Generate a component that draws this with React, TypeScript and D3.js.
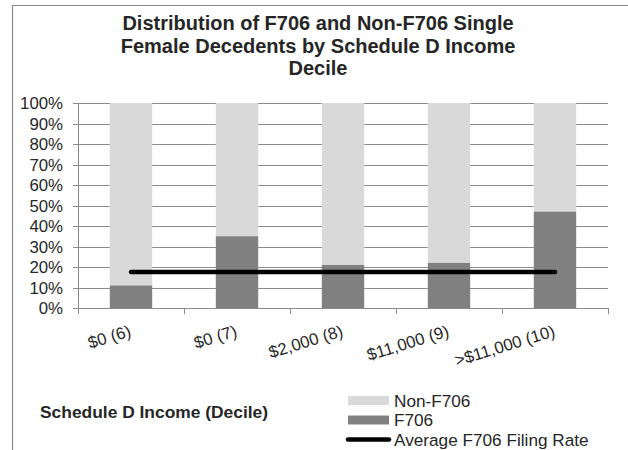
import { useEffect, useRef } from 'react';
import * as d3 from 'd3';

const categories = ['$0 (6)', '$0 (7)', '$2,000 (8)', '$11,000 (9)', '>$11,000 (10)'];
const f706 = [0.11, 0.35, 0.21, 0.22, 0.47];
const nonF706 = [0.89, 0.65, 0.79, 0.78, 0.53];
const averageRate = 0.176;
const yTicks = [0, 0.1, 0.2, 0.3, 0.4, 0.5, 0.6, 0.7, 0.8, 0.9, 1];
const titleLines = [
  'Distribution of F706 and Non-F706 Single',
  'Female Decedents by Schedule D Income',
  'Decile',
];

const FONT = '"Liberation Sans", Arial, sans-serif';
const TEXT = '#262626';
const GRID = '#8c8c8c';

export default function App() {
  const ref = useRef<SVGSVGElement>(null);

  useEffect(() => {
    const width = 628, height = 450;
    const svg = d3.select(ref.current);
    svg.selectAll('*').remove();
    svg.attr('width', width).attr('height', height);

    svg.append('rect').attr('width', width).attr('height', height).attr('fill', '#fff');

    // outer chart frame
    svg.append('path')
      .attr('d', `M12.5,${height + 5} V5.5 H${width + 5}`)
      .attr('fill', 'none')
      .attr('stroke', '#8a8a8a')
      .attr('stroke-width', 1.2);

    const x = d3.scaleBand<string>()
      .domain(categories)
      .range([78, 608])
      .paddingInner(0.6)
      .paddingOuter(0.3);
    const y = d3.scaleLinear().domain([0, 1]).range([308, 103]);

    // title
    svg.append('text')
      .attr('font-family', FONT)
      .attr('font-size', 20)
      .attr('font-weight', 'bold')
      .attr('fill', TEXT)
      .attr('text-anchor', 'middle')
      .selectAll('tspan')
      .data(titleLines)
      .join('tspan')
      .attr('x', 318)
      .attr('y', (_, i) => 30 + i * 22.5)
      .text(d => d);

    // gridlines
    svg.append('g')
      .selectAll('line')
      .data(yTicks.slice(1))
      .join('line')
      .attr('x1', 78).attr('x2', 608)
      .attr('y1', d => Math.round(y(d)) + 0.5)
      .attr('y2', d => Math.round(y(d)) + 0.5)
      .attr('stroke', GRID)
      .attr('stroke-width', 1);

    // stacked bars
    const stacked = categories.map((c, i) => ({ c, a: f706[i], b: nonF706[i] }));
    const bars = svg.append('g');
    bars.selectAll('rect.non')
      .data(stacked)
      .join('rect')
      .attr('class', 'non')
      .attr('x', d => x(d.c)!)
      .attr('width', x.bandwidth())
      .attr('y', d => y(d.a + d.b))
      .attr('height', d => y(d.a) - y(d.a + d.b))
      .attr('fill', '#d9d9d9');
    bars.selectAll('rect.f')
      .data(stacked)
      .join('rect')
      .attr('class', 'f')
      .attr('x', d => x(d.c)!)
      .attr('width', x.bandwidth())
      .attr('y', d => y(d.a))
      .attr('height', d => y(0) - y(d.a))
      .attr('fill', '#808080');

    // axes
    svg.append('line')
      .attr('x1', 78.5).attr('x2', 78.5)
      .attr('y1', 103).attr('y2', 308.5)
      .attr('stroke', GRID);
    svg.append('line')
      .attr('x1', 73).attr('x2', 608)
      .attr('y1', 308.5).attr('y2', 308.5)
      .attr('stroke', GRID);
    svg.append('g')
      .selectAll('line')
      .data(yTicks)
      .join('line')
      .attr('x1', 73).attr('x2', 78)
      .attr('y1', d => Math.round(y(d)) + 0.5)
      .attr('y2', d => Math.round(y(d)) + 0.5)
      .attr('stroke', GRID);
    const bounds = categories.map(c => x(c)! - (x.step() - x.bandwidth()) / 2).concat([608]);
    svg.append('g')
      .selectAll('line')
      .data(bounds)
      .join('line')
      .attr('x1', d => Math.round(d) + 0.5)
      .attr('x2', d => Math.round(d) + 0.5)
      .attr('y1', 308).attr('y2', 314)
      .attr('stroke', GRID);

    // y tick labels
    svg.append('g')
      .selectAll('text')
      .data(yTicks)
      .join('text')
      .attr('x', 63)
      .attr('y', d => y(d) + 6)
      .attr('text-anchor', 'end')
      .attr('font-family', FONT)
      .attr('font-size', 16.8)
      .attr('fill', TEXT)
      .text(d => d3.format('.0%')(d));

    // x tick labels
    svg.append('g')
      .selectAll('text')
      .data(categories)
      .join('text')
      .attr('transform', d => `translate(${x(d)! + x.bandwidth() / 2 + 1},336) rotate(-17)`)
      .attr('text-anchor', 'end')
      .attr('font-family', FONT)
      .attr('font-size', 16.8)
      .attr('fill', TEXT)
      .text(d => d);

    // average line
    const line = d3.line<string>()
      .x(d => x(d)! + x.bandwidth() / 2)
      .y(() => y(averageRate));
    svg.append('path')
      .attr('d', line([categories[0], categories[categories.length - 1]]))
      .attr('stroke', '#000')
      .attr('stroke-width', 4.5)
      .attr('stroke-linecap', 'round')
      .attr('fill', 'none');

    // axis title
    svg.append('text')
      .attr('x', 40)
      .attr('y', 417.5)
      .attr('font-family', FONT)
      .attr('font-size', 17.4)
      .attr('font-weight', 'bold')
      .attr('fill', TEXT)
      .text('Schedule D Income (Decile)');

    // legend
    const legend = [
      { name: 'Non-F706', type: 'rect', color: '#d9d9d9' },
      { name: 'F706', type: 'rect', color: '#808080' },
      { name: 'Average F706 Filing Rate', type: 'line', color: '#000' },
    ];
    const lg = svg.append('g').selectAll('g')
      .data(legend)
      .join('g')
      .attr('transform', (_, i) => `translate(0,${400.5 + i * 19.5})`);
    lg.filter(d => d.type === 'rect')
      .append('rect')
      .attr('x', 348).attr('y', -4.5)
      .attr('width', 41).attr('height', 9)
      .attr('fill', d => d.color);
    lg.filter(d => d.type === 'line')
      .append('line')
      .attr('x1', 348).attr('x2', 389)
      .attr('stroke', d => d.color)
      .attr('stroke-width', 4.5)
      .attr('stroke-linecap', 'round');
    lg.append('text')
      .attr('x', 394)
      .attr('y', 6)
      .attr('font-family', FONT)
      .attr('font-size', 17.2)
      .attr('fill', TEXT)
      .text(d => d.name);
  }, []);

  return (
    <svg ref={ref} style={{ position: 'absolute', left: 0, top: 0, display: 'block' }}></svg>
  );
}
